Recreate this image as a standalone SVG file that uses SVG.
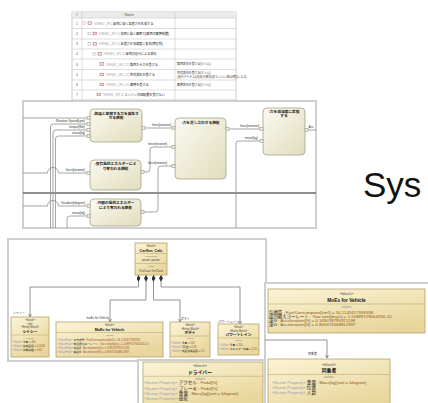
<svg xmlns="http://www.w3.org/2000/svg" width="428" height="403" viewBox="0 0 428 403">
  <style>
    text { font-family: 'Liberation Sans', 'Noto Sans CJK JP', sans-serif; }
    .frame { fill: #fff; stroke: #cfcfcf; stroke-width: 2; }
    .grid { fill: none; stroke: #c6c6c6; stroke-width: 0.6; }
    .tnum { font-size: 3.4px; fill: #555; text-anchor: middle; }
    .tid { font-size: 3px; fill: #a0a0a0; }
    .tjp { font-size: 3.1px; fill: #222; }
    .tdesc { font-size: 2.9px; fill: #333; }
    .tog { fill: #fff; stroke: #999; stroke-width: 0.4; }
    .req { fill: #f3e4e4; stroke: #b25a5a; stroke-width: 0.5; }
    .ib { fill: url(#ibdFill); stroke: #a4a28a; stroke-width: 0.8; }
    .ibt { font-size: 3.7px; font-weight: bold; fill: #222; text-anchor: middle; }
    .port { fill: #f3f1dc; stroke: #8a8a7a; stroke-width: 0.5; }
    .wire { fill: none; stroke: #8e8e8e; stroke-width: 0.8; }
    .plbl { font-size: 3.2px; fill: #333; }
    .plr { font-size: 3.2px; fill: #333; text-anchor: end; }
    .bb { fill: url(#bddFill); stroke: #b3a06a; stroke-width: 0.8; }
    .sep { stroke: #b3a06a; stroke-width: 0.5; }
    .st { font-size: 2.8px; fill: #444; text-anchor: middle; }
    .bt { font-size: 3.7px; font-weight: bold; fill: #111; text-anchor: middle; }
    .cmp { font-size: 2.5px; fill: #777; text-anchor: middle; }
    .row { font-size: 2.7px; fill: #a0522d; }
    .vp { fill: #9a8fb4; }
    .nm { fill: #2a2a2a; }
    .assoc { fill: none; stroke: #777; stroke-width: 0.8; }
    .alb { font-size: 3px; fill: #333; }
    .big-st { font-size: 4px; fill: #555; text-anchor: middle; }
    .big-t { font-size: 4.8px; font-weight: bold; fill: #111; text-anchor: middle; }
    .big-c { font-size: 3.4px; fill: #888; text-anchor: middle; }
    .big-row { font-size: 4.4px; fill: #8a5a14; }
    .scene { font-size: 4.2px; fill: #9b9bbb; }
    .snm { font-size: 4.6px; fill: #2a2a2a; }
    .sty { font-size: 4.2px; fill: #8a5a14; }
  </style>
  <defs>
    <linearGradient id="ibdFill" x1="0" y1="0" x2="1" y2="1">
      <stop offset="0" stop-color="#fbfaf1"/>
      <stop offset="1" stop-color="#e1ddbd"/>
    </linearGradient>
    <linearGradient id="bddFill" x1="0" y1="0" x2="0.6" y2="1">
      <stop offset="0" stop-color="#fbf4d6"/>
      <stop offset="1" stop-color="#e9d69c"/>
    </linearGradient>
    <marker id="diamond" viewBox="0 0 10 6" refX="0" refY="3" markerWidth="8" markerHeight="4" markerUnits="userSpaceOnUse" orient="auto">
      <path d="M0,3 L5,0 L10,3 L5,6 Z" fill="#333"/>
    </marker>
    <marker id="open" viewBox="0 0 10 10" refX="10" refY="5" markerWidth="3.5" markerHeight="3.5" markerUnits="userSpaceOnUse" orient="auto">
      <path d="M0,0 L10,5 L0,10" fill="none" stroke="#555" stroke-width="1.6"/>
    </marker>
  </defs>

  <rect width="428" height="403" fill="#fff"/>

  <!-- requirement table -->
  <g id="requirement-table">
    <rect x="72" y="12" width="164" height="88" fill="#fff" stroke="#bdbdbd" stroke-width="0.8"/>
    <rect x="72" y="12" width="164" height="6" fill="#ebebeb"/>
    <path class="grid" d="M72,18H236 M72,28.5H236 M72,39H236 M72,49H236 M72,59H236 M72,69.5H236 M72,80H236 M72,90H236 M82,12V100 M175,12V100"/>
    <text class="tnum" x="77" y="16.4">#</text>
    <text class="tnum" x="128" y="16.4">↑ Name</text>

    <text class="tnum" x="77" y="24.6">1</text>
    <rect class="tog" x="83" y="21.8" width="2.6" height="2.6"/>
    <rect class="req" x="88" y="21.8" width="3.4" height="2.6"/>
    <text x="94" y="24.6"><tspan class="tid">VSF(E2_JF1)</tspan><tspan class="tjp"> 車両に働く並進力を生成する</tspan></text>

    <text class="tnum" x="77" y="35">2</text>
    <rect class="tog" x="88" y="32.2" width="2.6" height="2.6"/>
    <rect class="req" x="93" y="32.2" width="3.4" height="2.6"/>
    <text x="99" y="35"><tspan class="tid">VSF(E2_JF1.1)</tspan><tspan class="tjp"> 地面に働く摩擦力(路面の摩擦係数)</tspan></text>

    <text class="tnum" x="77" y="45.3">3</text>
    <rect class="tog" x="88" y="42.5" width="2.6" height="2.6"/>
    <rect class="req" x="93" y="42.5" width="3.4" height="2.6"/>
    <text x="99" y="45.3"><tspan class="tid">VSF(E2_JF1.1)</tspan><tspan class="tjp"> 並進力を加速度に変換(物理則)</tspan></text>

    <text class="tnum" x="77" y="55.3">4</text>
    <rect class="tog" x="93" y="52.5" width="2.6" height="2.6"/>
    <rect class="req" x="98" y="52.5" width="3.4" height="2.6"/>
    <text x="104" y="55.3"><tspan class="tid">VSF(E2_JF1.2)</tspan><tspan class="tjp"> 車両の走行による抵抗</tspan></text>

    <text class="tnum" x="77" y="65.5">4</text>
    <rect class="req" x="100" y="62.7" width="3.4" height="2.6"/>
    <text x="106" y="65.5"><tspan class="tid">VSF(E2_JF1.2.1)</tspan><tspan class="tjp"> 路面から力を受ける</tspan></text>
    <text class="tdesc" x="177" y="65.3">路面抵抗を受ける(ピトム)</text>

    <text class="tnum" x="77" y="76">5</text>
    <rect class="req" x="100" y="73.2" width="3.4" height="2.6"/>
    <text x="106" y="76"><tspan class="tid">VSF(E2_JF1.2.2)</tspan><tspan class="tjp"> 空気抵抗を受ける</tspan></text>
    <text class="tdesc" x="177" y="74">空気抵抗を受ける(ピトム)</text>
    <text class="tdesc" x="177" y="77.6">(走行アイテム)の(走行抵抗)のエンジン停止時(5+-1+5)</text>

    <text class="tnum" x="77" y="86">6</text>
    <rect class="req" x="100" y="83.2" width="3.4" height="2.6"/>
    <text x="106" y="86"><tspan class="tid">VSF(E2_JF1.2.3)</tspan><tspan class="tjp"> 摩擦を受ける</tspan></text>
    <text class="tdesc" x="177" y="85.6">摩擦抵抗を受ける(ピトム)</text>

    <text class="tnum" x="77" y="96">7</text>
    <rect class="req" x="97" y="93.2" width="3.4" height="2.6"/>
    <text x="103" y="96"><tspan class="tid">VSF(E2_JF1.3)</tspan><tspan class="tjp"> エンジンの回転数を受けない</tspan></text>
  </g>

  <!-- internal block diagram -->
  <g id="ibd">
    <rect class="frame" x="23" y="101" width="293" height="127"/>
    <path d="M23,193H316" stroke="#6a6a6a" stroke-width="1.3"/>

    <g id="connectors">
      <path class="wire" d="M23,118H87"/>
      <path class="wire" d="M87,124H53.5Q50.5,124 50.5,127V228"/>
      <path class="wire" d="M87,130H56Q53,130 53,133V228"/>
      <path class="wire" d="M87,136H58.5Q55.5,136 55.5,139V228"/>
      <path class="wire" d="M23,173H47.5A4.5,4.5 0 0 1 58.5,173H87"/>
      <path class="wire" d="M23,206H47.5A4.5,4.5 0 0 1 58.5,206H87"/>
      <path class="wire" d="M67,228V219Q67,216 70,216H87"/>
      <path class="wire" d="M145,128H172"/>
      <path class="wire" d="M144,172H147Q150,172 150,169V150Q150,147 153,147H172"/>
      <path class="wire" d="M144,212H155Q158,212 158,209V169Q158,166 161,166H172"/>
      <path class="wire" d="M229,129H260"/>
      <path class="wire" d="M260,141H239Q236,141 236,144V228"/>
      <path class="wire" d="M308,130H316"/>

      <text class="plr" x="85" y="122">Rotation Speed[rpm]</text>
      <text class="plr" x="85" y="128.3">torque[Nm]</text>
      <text class="plr" x="85" y="134.4">mass[kg]</text>
      <text class="plr" x="85" y="171.2">force[newton]</text>
      <text class="plr" x="85" y="204.2">Gradient[degree]</text>
      <text class="plr" x="85" y="214.3">mass[kg]</text>
      <text class="plbl" x="152" y="126.2">force[newton]</text>
      <text class="plbl" x="148" y="145.2">force[newton]</text>
      <text class="plbl" x="148" y="164.2">force[newton]</text>
      <text class="plbl" x="240" y="127.2">force[newton]</text>
      <text class="plbl" x="245" y="139.2">mass[kg]</text>
      <text class="plbl" x="308.5" y="128">Acc</text>
    </g>

    <g id="node-contact-force">
      <rect class="ib" x="90" y="109" width="52" height="33" rx="4"/>
      <text class="ibt" x="116" y="114.5">:路面と接触する力を発生さ</text>
      <text class="ibt" x="116" y="119">せる機能</text>
      <rect class="port" x="87" y="116.5" width="3" height="3"/>
      <rect class="port" x="87" y="122.5" width="3" height="3"/>
      <rect class="port" x="87" y="128.5" width="3" height="3"/>
      <rect class="port" x="87" y="134.5" width="3" height="3"/>
      <rect class="port" x="142" y="126.5" width="3" height="3"/>
    </g>

    <g id="node-air-resistance">
      <rect class="ib" x="90" y="160" width="51" height="30" rx="4"/>
      <text class="ibt" x="115.5" y="165">:空気抵抗エネルギーによ</text>
      <text class="ibt" x="115.5" y="169.5">り奪われる機能</text>
      <rect class="port" x="87" y="171.5" width="3" height="3"/>
      <rect class="port" x="141" y="170.5" width="3" height="3"/>
    </g>

    <g id="node-internal-resistance">
      <rect class="ib" x="90" y="199" width="51" height="27" rx="4"/>
      <text class="ibt" x="115.5" y="204">:内部の抵抗エネルギー</text>
      <text class="ibt" x="115.5" y="208.5">により奪われる機能</text>
      <rect class="port" x="87" y="204.5" width="3" height="3"/>
      <rect class="port" x="87" y="214.5" width="3" height="3"/>
      <rect class="port" x="141" y="210.5" width="3" height="3"/>
    </g>

    <g id="node-force-sum">
      <rect class="ib" x="175" y="118" width="51" height="61" rx="4"/>
      <text class="ibt" x="200.5" y="123.5">:力を足し合わせる機能</text>
      <rect class="port" x="172" y="126.5" width="3" height="3"/>
      <rect class="port" x="172" y="145.5" width="3" height="3"/>
      <rect class="port" x="172" y="164.5" width="3" height="3"/>
      <rect class="port" x="226" y="127.5" width="3" height="3"/>
    </g>

    <g id="node-acceleration">
      <rect class="ib" x="263" y="108" width="42" height="47" rx="4"/>
      <text class="ibt" x="284" y="112.8">:力を加速度に変換</text>
      <text class="ibt" x="284" y="117.2">する</text>
      <rect class="port" x="260" y="127.5" width="3" height="3"/>
      <rect class="port" x="260" y="139.5" width="3" height="3"/>
      <rect class="port" x="305" y="128.5" width="3" height="3"/>
    </g>
  </g>

  <text x="363" y="197" font-family="'DejaVu Sans', sans-serif" font-size="35" fill="#111">Sys</text>

  <!-- block definition diagram -->
  <g id="bdd">
    <rect class="frame" x="8" y="239" width="258" height="122"/>

    <g id="bdd-connectors">
      <path class="assoc" d="M138.5,275V287H30V317" marker-start="url(#diamond)" marker-end="url(#open)"/>
      <path class="assoc" d="M146,275V300H110V322" marker-start="url(#diamond)" marker-end="url(#open)"/>
      <path class="assoc" d="M153.5,275V300H180V322" marker-start="url(#diamond)" marker-end="url(#open)"/>
      <path class="assoc" d="M161,275V287H240V324" marker-start="url(#diamond)" marker-end="url(#open)"/>
      <text class="alb" x="13" y="313.5">シャシー</text>
      <text class="alb" x="109" y="319" text-anchor="end">moEs for Vehicle</text>
      <text class="alb" x="181" y="319.5">ボディ</text>
      <text class="alb" x="239" y="322.5" text-anchor="end">パワートレイン</text>
    </g>

    <g id="node-carsim-calc">
      <rect class="bb" x="135" y="243" width="32" height="32"/>
      <text class="st" x="151" y="247.3">«block»</text>
      <text class="bt" x="151" y="251.8" font-size="3.4">CarSim_Calc</text>
      <line class="sep" x1="135" y1="253.5" x2="167" y2="253.5"/>
      <text class="cmp" x="151" y="257">constraints</text>
      <text class="st" x="151" y="261.2">param:  param:</text>
      <line class="sep" x1="135" y1="263.5" x2="167" y2="263.5"/>
      <text class="cmp" x="151" y="267">parts</text>
      <text class="st" x="151" y="271.5" font-size="3.2">TestCase  TestCase</text>
    </g>

    <g id="node-chassis">
      <rect class="bb" x="11" y="317" width="38" height="40"/>
      <text class="st" x="30" y="321">«block»</text>
      <text class="st" x="30" y="324.6">«ip»</text>
      <text class="st" x="30" y="328.2">«Entity Block»</text>
      <text class="bt" x="30" y="332.8">シャシー</text>
      <line class="sep" x1="11" y1="335" x2="49" y2="335"/>
      <text class="cmp" x="30" y="338.6">values</text>
      <text class="row" x="12.5" y="343"><tspan class="vp">«Value»</tspan><tspan class="nm"> 重量</tspan> = 300</text>
      <text class="row" x="12.5" y="347"><tspan class="vp">«Value»</tspan><tspan class="nm"> 接触面積</tspan> = 0.0030</text>
      <text class="row" x="12.5" y="351"><tspan class="vp">«Value»</tspan><tspan class="nm"> 摩擦係数</tspan> = 0.82</text>
    </g>

    <g id="node-moes-small">
      <rect class="bb" x="56" y="322" width="107" height="35"/>
      <text class="st" x="109.5" y="326">«block»</text>
      <text class="bt" x="109.5" y="330.6">MoEs for Vehicle</text>
      <line class="sep" x1="56" y1="332.5" x2="163" y2="332.5"/>
      <text class="cmp" x="109.5" y="336">values</text>
      <text class="row" x="57.5" y="340.5"><tspan class="vp">«ValueProp»</tspan><tspan class="nm"> 平均燃費</tspan> : FuelConsumption[km/l] = 34.1143417358358</text>
      <text class="row" x="57.5" y="344.6"><tspan class="vp">«ValueProp»</tspan><tspan class="nm"> 旋回最大ヨーレート</tspan> : Yaw rate[deg/s] = 2.20899729064256-10</text>
      <text class="row" x="57.5" y="348.7"><tspan class="vp">«ValueProp»</tspan><tspan class="nm"> 加速G</tspan> : Acceleration[G] = 0.149078795371138</text>
      <text class="row" x="57.5" y="352.8"><tspan class="vp">«ValueProp»</tspan><tspan class="nm"> 減速G</tspan> : Acceleration[G] = 0.809471668812897</text>
    </g>

    <g id="node-body">
      <rect class="bb" x="170" y="322" width="40" height="35"/>
      <text class="st" x="190" y="326">«block»</text>
      <text class="st" x="190" y="329.6">«Entity Block»</text>
      <text class="bt" x="190" y="334">ボディ</text>
      <line class="sep" x1="170" y1="336" x2="210" y2="336"/>
      <text class="cmp" x="190" y="339.4">values</text>
      <text class="row" x="171.5" y="343.5"><tspan class="vp">«Value»</tspan><tspan class="nm"> 重量</tspan> = 150</text>
      <text class="row" x="171.5" y="347.5"><tspan class="vp">«Value»</tspan><tspan class="nm"> CD値</tspan> = 0.35</text>
      <text class="row" x="171.5" y="351.5"><tspan class="vp">«Value»</tspan><tspan class="nm"> 前面投影面積</tspan> = 2.1</text>
    </g>

    <g id="node-powertrain">
      <rect class="bb" x="218" y="324" width="41" height="31"/>
      <text class="st" x="238.5" y="328">«block»</text>
      <text class="st" x="238.5" y="331.6">«Entity Block»</text>
      <text class="bt" x="238.5" y="336">パワートレイン</text>
      <line class="sep" x1="218" y1="338" x2="259" y2="338"/>
      <text class="cmp" x="238.5" y="341.4">values</text>
      <text class="row" x="219.5" y="345.5"><tspan class="vp">«Value»</tspan><tspan class="nm"> 重量</tspan> = 200</text>
      <text class="row" x="219.5" y="349.5"><tspan class="vp">«Value»</tspan><tspan class="nm"> エネルギー効率</tspan> = 0.25</text>
    </g>
  </g>

  <!-- measures of effectiveness panel -->
  <g id="moes-panel">
    <rect class="frame" x="265" y="283" width="170" height="130"/>
    <g id="moes-connectors">
      <path class="assoc" d="M265,340H327V358" marker-end="url(#open)"/>
      <text class="alb" x="308" y="355" font-size="4.2">同乗者</text>
    </g>
    <g id="node-moes">
      <rect class="bb" x="268" y="289" width="157" height="44"/>
      <text class="big-st" x="346.5" y="295">«block»</text>
      <text class="big-t" x="346.5" y="301.5">MoEs for Vehicle</text>
      <line class="sep" x1="268" y1="304" x2="425" y2="304"/>
      <text class="big-c" x="346.5" y="308">values</text>
      <text class="big-row" x="269" y="313.8"><tspan class="nm">均燃費</tspan> : FuelConsumption[km/l] = 34.1143417358358</text>
      <text class="big-row" x="269" y="318"><tspan class="nm">旋回最大ヨーレート</tspan> : Yaw rate[deg/s] = 2.20899729064256-10</text>
      <text class="big-row" x="269" y="322.2"><tspan class="nm">速G</tspan> : Acceleration[G] = 0.149078795371138</text>
      <text class="big-row" x="269" y="326.4"><tspan class="nm">速G</tspan> : Acceleration[G] = 0.809471668812897</text>
    </g>
    <g id="node-passenger">
      <rect class="bb" x="268" y="359" width="122" height="50"/>
      <text class="big-st" x="329" y="366">«block»</text>
      <text class="big-t" x="329" y="372.3">同乗者</text>
      <line class="sep" x1="268" y1="374.5" x2="390" y2="374.5"/>
      <text class="big-c" x="329" y="378.3">values</text>
      <text x="272" y="383.5"><tspan class="scene">«Scene Property»</tspan><tspan class="snm"> 重量</tspan><tspan class="sty"> : Mass[kg]{unit = kilogram}</tspan></text>
      <text x="272" y="388.7"><tspan class="scene">«Scene Property»</tspan><tspan class="snm"> 位置</tspan></text>
      <text x="272" y="393.9"><tspan class="scene">«Scene Property»</tspan><tspan class="snm"> 人数</tspan></text>
    </g>
  </g>

  <!-- driver panel -->
  <g id="driver-panel">
    <rect class="frame" x="138" y="360" width="127" height="50"/>
    <g id="node-driver">
      <rect class="bb" x="143" y="362" width="120" height="45"/>
      <text class="big-st" x="200" y="366.5">«block»</text>
      <text class="big-t" x="200" y="374.2" font-size="7">ドライバー</text>
      <line class="sep" x1="143" y1="376.3" x2="263" y2="376.3"/>
      <text class="big-c" x="200" y="379.8">values</text>
      <text x="144" y="384.4"><tspan class="scene">«Scene Property»</tspan><tspan class="snm"> アクセル</tspan><tspan class="sty"> : Pedal[%]</tspan></text>
      <text x="144" y="389.5"><tspan class="scene">«Scene Property»</tspan><tspan class="snm"> ブレーキ</tspan><tspan class="sty"> : Pedal[%]</tspan></text>
      <text x="144" y="394.6"><tspan class="scene">«Scene Property»</tspan><tspan class="snm"> 重量</tspan><tspan class="sty"> : Mass[kg]{unit = kilogram}</tspan></text>
      <text x="144" y="399.7"><tspan class="scene">«Scene Property»</tspan><tspan class="snm"> 操舵</tspan></text>
    </g>
  </g>
</svg>
